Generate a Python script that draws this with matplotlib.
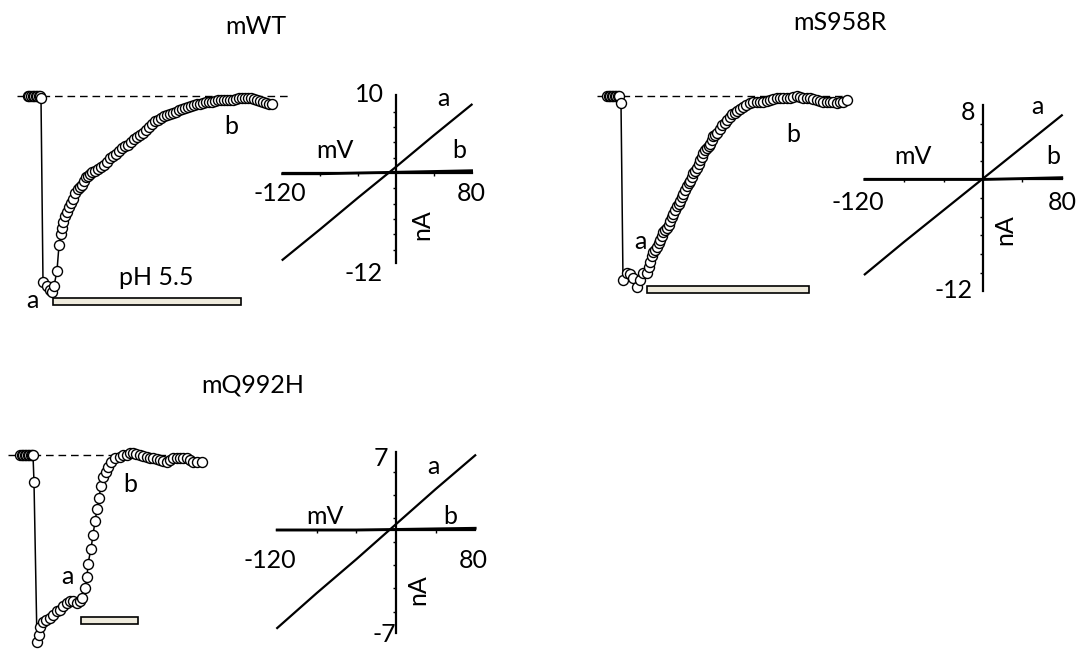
import matplotlib
matplotlib.use('Agg')
import matplotlib.pyplot as plt
from matplotlib.patches import Rectangle

plt.rcParams['font.family'] = ['Lato', 'DejaVu Sans']

# ---- time courses: time (s), current normalised to peak ----
wt_t = [0, 1.5, 3, 4.5, 6, 7.5, 9, 10.5, 12, 13, 15, 19, 22, 24, 26, 29, 31,
        33, 34, 35, 37, 39, 41, 43, 45, 47, 50, 52, 54, 56, 58, 60, 62, 64, 67, 70,
        73, 76, 79, 82, 85, 88, 91, 94, 97, 100, 103, 106, 109, 112, 115, 118, 121,
        124, 127, 130, 133, 136, 139, 142, 145, 148, 151, 154, 157, 160, 163, 166,
        169, 172, 175, 178, 181, 184, 187, 190, 193, 196, 199, 202, 205, 208, 211,
        214, 217, 220, 223, 226, 229, 232, 235, 238, 241, 244]
wt_i = [0, 0, 0, 0, 0, 0, 0, 0, 0, -0.01, -0.96, -0.98, -1.00, -1.01, -0.98, -0.90, -0.77,
        -0.71, -0.68, -0.65, -0.62, -0.60, -0.57, -0.55, -0.53, -0.50, -0.48, -0.47,
        -0.46, -0.44, -0.42, -0.41, -0.40, -0.39, -0.385, -0.375, -0.365, -0.355,
        -0.34, -0.32, -0.31, -0.30, -0.285, -0.27, -0.26, -0.25, -0.235, -0.22,
        -0.21, -0.20, -0.19, -0.175, -0.16, -0.145, -0.13, -0.125, -0.115, -0.105,
        -0.10, -0.095, -0.09, -0.08, -0.07, -0.065, -0.06, -0.055, -0.05, -0.045,
        -0.04, -0.04, -0.035, -0.03, -0.03, -0.03, -0.025, -0.02, -0.02, -0.02,
        -0.02, -0.02, -0.02, -0.015, -0.01, -0.01, -0.01, -0.01, -0.01, -0.015,
        -0.02, -0.025, -0.03, -0.035, -0.04, -0.04]
wt_ph = (25, 213)

s958r_t = [0, 1.5, 3, 4.5, 6, 7.5, 9, 10.5, 12, 14, 16, 20, 23, 26, 30, 33, 36, 40,
           41.5, 43, 44.5, 46, 48, 50, 51.5, 53, 54.5, 56, 58, 60, 61.5, 63, 64.5,
           66, 68, 70, 71.5, 73, 74.5, 76, 78, 80, 81.5, 83, 84.5, 86, 88, 90, 91.5,
           93, 94.5, 96, 98, 100, 101.5, 103, 104.5, 106, 108, 110, 112.5, 115,
           117.5, 120, 122.5, 125, 127.5, 130, 133, 136, 139, 143, 146, 150,
           153, 156, 160, 163, 166, 170, 173, 176, 180, 183, 186, 190, 193, 196,
           200, 203, 206, 210, 213, 216, 220, 223, 226, 230, 233, 236, 240]
s958r_i = [0, 0, 0, 0, 0, 0, 0, 0, 0, -0.04, -1.00, -0.96, -0.97, -0.99, -1.04, -1.00,
           -0.96, -0.96, -0.93, -0.90, -0.87, -0.85, -0.835, -0.82, -0.80, -0.78,
           -0.76, -0.74, -0.73, -0.72, -0.70, -0.68, -0.66, -0.64, -0.62, -0.60,
           -0.585, -0.57, -0.55, -0.53, -0.51, -0.49, -0.475, -0.46, -0.44, -0.42,
           -0.405, -0.39, -0.37, -0.35, -0.33, -0.31, -0.295, -0.28, -0.27, -0.26,
           -0.24, -0.22, -0.21, -0.20, -0.18, -0.16, -0.145, -0.13, -0.115, -0.10,
           -0.09, -0.08, -0.07, -0.06, -0.05, -0.04, -0.035, -0.03, -0.03, -0.03,
           -0.025, -0.02, -0.015, -0.01, -0.01, -0.01, -0.01, -0.01, -0.005, 0.0,
           -0.005, -0.01, -0.01, -0.01, -0.015, -0.02, -0.025, -0.03, -0.03, -0.03,
           -0.035, -0.04, -0.035, -0.03, -0.02]
s958r_ph = (40, 202)

q992h_t = [0, 1.5, 3, 4.5, 6, 7.5, 9, 10.5, 12, 13, 14, 17, 19, 20, 23, 26, 30, 33,
           37, 40, 43, 47, 50, 53, 57, 60, 62, 65, 67, 68, 71, 73, 75, 77, 79, 81,
           83, 86, 88, 91, 95, 100, 103, 107, 110, 113, 116, 120, 123, 127, 130,
           133, 137, 140, 143, 147, 150, 153, 157, 160, 163, 167, 170, 173, 177, 182]
q992h_i = [0, 0, 0, 0, 0, 0, 0, 0, 0, 0, -0.16, -1.10, -1.06, -1.01, -0.98, -0.97,
           -0.96, -0.94, -0.92, -0.91, -0.89, -0.87, -0.86, -0.86, -0.87, -0.86,
           -0.84, -0.78, -0.72, -0.64, -0.55, -0.47, -0.39, -0.32, -0.25, -0.18,
           -0.13, -0.10, -0.07, -0.04, -0.02, -0.01, 0.0, 0.0, 0.01, 0.01, 0.005,
           0.0, -0.005, -0.01, -0.015, -0.02, -0.025, -0.03, -0.035, -0.04, -0.03,
           -0.02, -0.02, -0.02, -0.02, -0.02, -0.03, -0.04, -0.04, -0.04]
q992h_ph = (61, 118)

# ---- I-V curves at a (peak) and b (end), mV / nA ----
iv_v = [-120, -80, -40, 0, 40, 80]
wt_a = [-11.3, -7.3, -3.2, 0.8, 4.9, 8.9]
wt_b = [-0.1, -0.1, 0.0, 0.1, 0.2, 0.3]
s958r_a = [-10.2, -6.7, -3.3, 0.1, 3.5, 6.9]
s958r_b = [0.0, 0.0, 0.0, 0.0, 0.1, 0.2]
q992h_a = [-8.4, -5.4, -2.5, 0.5, 3.5, 6.4]
q992h_b = [0.0, 0.0, 0.0, 0.05, 0.1, 0.15]

W, H = 1087, 649
FS = 18
fig = plt.figure(figsize=(W / 100, H / 100), dpi=100)


def px_axes(box, x0, xs, y0, ys):
    # box in pixels (left, top, right, bottom); x0/y0 = pixel of data zero
    l, t, r, b = box
    ax = fig.add_axes([l / W, 1 - b / H, (r - l) / W, (b - t) / H])
    ax.set_xlim((l - x0) / xs, (r - x0) / xs)
    ax.set_ylim((y0 - b) / ys, (y0 - t) / ys)
    ax.patch.set_visible(False)
    return ax


def ftext(x, y, s, **kw):
    fig.text(x / W, 1 - y / H, s, ha='center', va='center', fontsize=FS, **kw)


def draw_trace(ax, t, cur, ph, dash, bar_y, bar_h):
    ax.hlines(0, dash[0], dash[1], colors='k', linestyles=(0, (5.5, 3.5)), lw=1.0)
    ax.plot(t, cur, '-o', color='k', lw=1.1, ms=7.2, mfc='white', mec='k', mew=1.0)
    ax.add_patch(Rectangle((ph[0], bar_y), ph[1] - ph[0], bar_h,
                           fc='#eeeadc', ec='k', lw=1.2))
    ax.axis('off')


def draw_iv(ax, a, b, ybounds, yticks):
    ax.plot(iv_v, a, color='k', lw=1.6)
    ax.plot(iv_v, b, color='k', lw=2.0)
    for side in ['top', 'right']:
        ax.spines[side].set_visible(False)
    ax.spines['left'].set_position(('data', 0))
    ax.spines['bottom'].set_position(('data', 0))
    ax.spines['left'].set_bounds(*ybounds)
    ax.spines['bottom'].set_bounds(-120, 80)
    ax.spines['left'].set_linewidth(1.6)
    ax.spines['bottom'].set_linewidth(1.6)
    ax.set_xticks([-80, -40, 40])
    ax.set_yticks(yticks)
    ax.tick_params(length=2.5, width=1.0, labelleft=False, labelbottom=False)


# mWT
ax = px_axes((5, 80, 300, 320), 28, 1.0, 96, 194)
draw_trace(ax, wt_t, wt_i, wt_ph, (-11, 262), -1.077, 0.036)
ax = px_axes((250, 80, 490, 290), 396, 0.945, 173, 7.68)
draw_iv(ax, wt_a, wt_b, (-11.7, 10.2), [-10, -8, -6, -4, -2, 2, 4, 6, 8])

# mS958R
ax = px_axes((585, 80, 870, 310), 607, 1.0, 96, 184)
draw_trace(ax, s958r_t, s958r_i, s958r_ph, (-10, 243), -1.071, 0.038)
ax = px_axes((830, 95, 1080, 305), 983, 0.985, 179.5, 9.3)
draw_iv(ax, s958r_a, s958r_b, (-12.0, 8.0), [-10, -8, -6, -4, -2, 2, 4, 6])

# mQ992H
ax = px_axes((0, 440, 215, 649), 20, 1.0, 455, 170)
draw_trace(ax, q992h_t, q992h_i, q992h_ph, (-12, 162), -0.994, 0.041)
ax = px_axes((240, 440, 490, 645), 396, 0.99, 530, 11.67)
draw_iv(ax, q992h_a, q992h_b, (-8.8, 6.7), [-7, -5, -3, -1, 1, 3, 5])

# titles
ftext(256, 26, 'mWT')
ftext(840, 22, 'mS958R')
ftext(253, 385, 'mQ992H')

# trace labels
ftext(231, 126, 'b')
ftext(32, 301, 'a')
ftext(156, 277, 'pH 5.5')
ftext(640, 241, 'a')
ftext(793, 134, 'b')
ftext(67, 576, 'a')
ftext(130, 484, 'b')

# I-V labels
for (x, y, s) in [(369, 94, '10'), (364, 274, '-12'), (280, 194, '-120'), (471, 194, '80'),
                  (335, 150, 'mV'), (443, 98, 'a'), (459, 151, 'b'),
                  (968, 112, '8'), (954, 291, '-12'), (858, 202, '-120'), (1062, 202, '80'),
                  (913, 156, 'mV'), (1037, 107, 'a'), (1053, 157, 'b'),
                  (381, 458, '7'), (384, 634, '-7'), (270, 561, '-120'), (473, 561, '80'),
                  (325, 517, 'mV'), (433, 466, 'a'), (450, 517, 'b')]:
    ftext(x, y, s)
ftext(422, 225, 'nA', rotation=90)
ftext(1005, 230, 'nA', rotation=90)
ftext(418, 590, 'nA', rotation=90)

fig.savefig('out.png', dpi=100)
